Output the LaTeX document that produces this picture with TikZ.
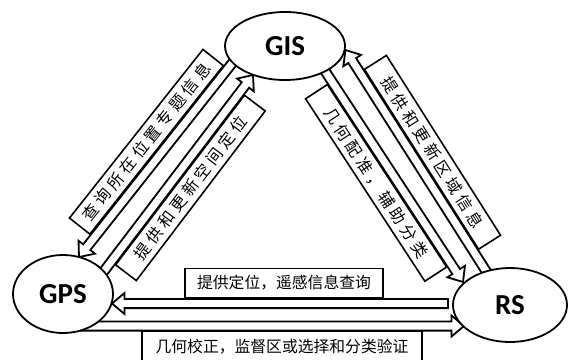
\documentclass[tikz,border=0pt]{standalone}
\usepackage{fontspec}
\newfontfamily\cjk{Noto Sans CJK SC}
\newfontfamily\cjksp[LetterSpace=25]{Noto Sans CJK SC}
\newfontfamily\lat{Carlito}
\usetikzlibrary{calc,shapes.geometric}

\def\hsw{4.6pt}\def\hhw{10.5pt}\def\hhl{12.5pt}
\newcommand\harrow[2]{%
\draw[arrowbody] let \p1=(#1),\p2=(#2),\n1={atan2(\y2-\y1,\x2-\x1)} in
 ($(\p1)+(\n1+90:\hsw)$) -- ($(\p2)+(\n1+180:\hhl)+(\n1+90:\hsw)$) --
 ($(\p2)+(\n1+180:\hhl)+(\n1+90:\hhw)$) -- (\p2) --
 ($(\p2)+(\n1+180:\hhl)+(\n1-90:\hhw)$) -- ($(\p2)+(\n1+180:\hhl)+(\n1-90:\hsw)$) --
 ($(\p1)+(\n1-90:\hsw)$) -- cycle;}

\begin{document}
\begin{tikzpicture}[x=1pt,y=-1pt,
  lbl/.style={draw, line width=1.6pt, fill=white, inner sep=0pt, minimum height=29pt,
    font=\cjk\fontsize{15.8}{16}\selectfont},
  dlbl/.style={lbl, minimum height=26pt, font=\cjksp\fontsize{16}{16}\selectfont},
  oval/.style={ellipse, draw, line width=1.8pt, fill=white, inner sep=0pt,
    font=\lat\bfseries\fontsize{29}{29}\selectfont},
  arrowbody/.style={draw, line width=1.8pt, fill=white, line join=miter}]
\useasboundingbox (0,0) rectangle (570,359);

% label boxes
\node[dlbl, minimum width=215pt, rotate=51.63] (b1) at (146.4,141.8) {查询所在位置专题信息};
\node[dlbl, minimum width=213pt, rotate=52.76] (b2) at (190.4,187.9) {提供和更新空间定位};
\node[dlbl, minimum width=218pt, rotate=-56.82] (b3) at (376.1,182.9) {几何配准，辅助分类};
\node[dlbl, minimum width=213pt, rotate=-57.6] (b4) at (432.5,152.3) {提供和更新区域信息};
\node[lbl, minimum width=198pt] (b5) at (284,283) {提供定位，遥感信息查询};
\node[lbl, minimum width=280pt, minimum height=32pt] (b6) at (282,347) {几何校正，监督区或选择和分类验证};

% arrow end points
\coordinate (gisA) at (233.7,61.3);
\coordinate (gpsA) at (79,257);
\coordinate (gpsB) at (100.4,275.8);
\coordinate (gisB) at (253,75);
\coordinate (gisC) at (323.7,69);
\coordinate (rsC) at (463,282);
\coordinate (rsD) at (489.2,276.1);
\coordinate (gisD) at (345.5,50);
\coordinate (rsE) at (448,303.5);
\coordinate (gpsE) at (112,303.5);
\coordinate (gpsF) at (72,326);
\coordinate (rsF) at (464,326);

\harrow{gisA}{gpsA}
\harrow{gpsB}{gisB}
\harrow{gisC}{rsC}
\harrow{rsD}{gisD}
\harrow{rsE}{gpsE}
\harrow{gpsF}{rsF}

% system ellipses
\node[oval, minimum width=120pt, minimum height=68pt] (gis) at (285,46) {GIS};
\node[oval, minimum width=100pt, minimum height=78pt] (gps) at (63,294) {GPS};
\node[oval, minimum width=114pt, minimum height=74pt] (rs) at (510,305) {RS};
\end{tikzpicture}
\end{document}
